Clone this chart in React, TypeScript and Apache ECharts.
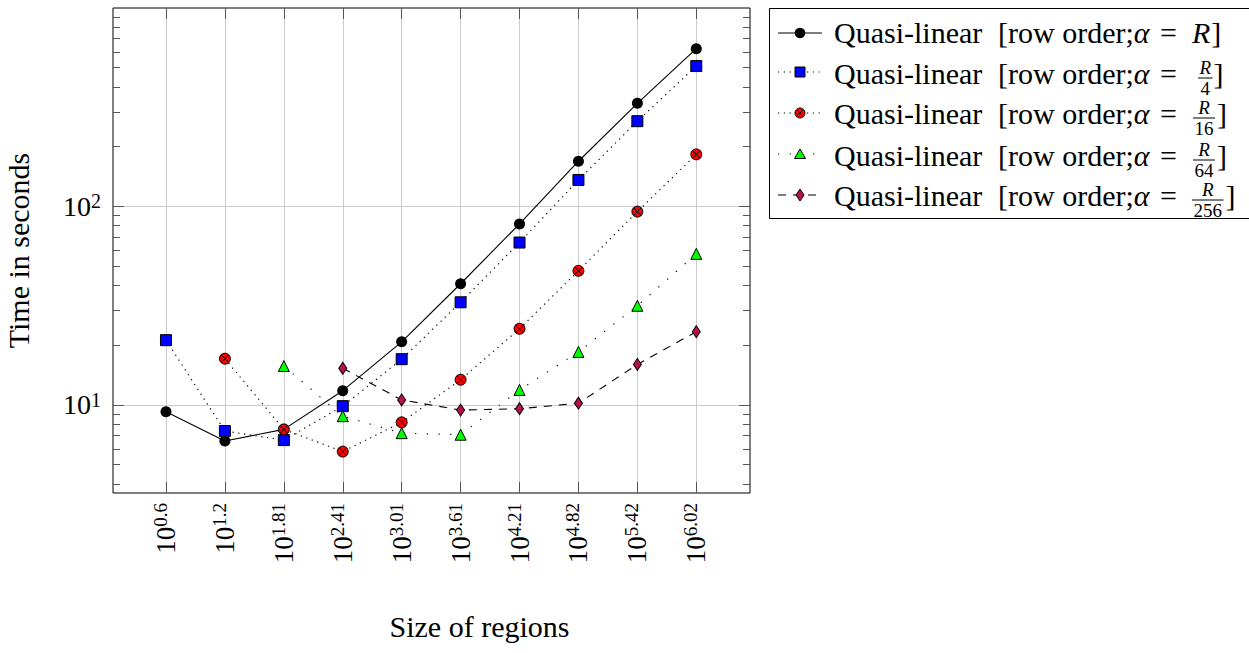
import React, { useEffect, useRef } from 'react';
import * as echarts from 'echarts';

// Region sizes (4^k) on the x axis
const regionSizes = [4, 16, 64, 256, 1024, 4096, 16384, 65536, 262144, 1048576];

// Time in seconds for each alpha setting (null = no measurement)
const timeAlphaR = [9.24, 6.58, 7.53, 11.8, 20.8, 40.8, 81.7, 169, 331, 624];
const timeAlphaR4 = [21.2, 7.39, 6.65, 9.86, 17.0, 32.9, 65.8, 136, 269, 510];
const timeAlphaR16 = [null, 17.1, 7.53, 5.82, 8.17, 13.4, 24.2, 47.4, 94.2, 183];
const timeAlphaR64 = [null, null, 15.7, 8.78, 7.21, 7.08, 11.9, 18.5, 31.6, 57.7];
const timeAlphaR256 = [null, null, null, 15.3, 10.6, 9.42, 9.57, 10.2, 16.0, 23.4];

const seriesNames = [
  'Quasi-linear [row order;α = R]',
  'Quasi-linear [row order;α = R/4]',
  'Quasi-linear [row order;α = R/16]',
  'Quasi-linear [row order;α = R/64]',
  'Quasi-linear [row order;α = R/256]',
];
const alphaDenominators = ['', '4', '16', '64', '256'];

// y axis tick values
const yMajorTicks = [10, 100];
const yMinorTicks = [4, 5, 6, 7, 8, 9, 20, 30, 40, 50, 60, 70, 80, 90, 200, 300, 400, 500, 600, 700, 800, 900];

const FONT = 'Liberation Serif, serif';

const OTIMES =
  'path://M0,10 A10,10 0 1,1 20,10 A10,10 0 1,1 0,10 Z M2.93,2.93 L17.07,17.07 M17.07,2.93 L2.93,17.07';

function measure(text: string, font: string): number {
  const c = document.createElement('canvas');
  const ctx = c.getContext('2d')!;
  ctx.font = font;
  return ctx.measureText(text).width;
}

export default function App() {
  const ref = useRef<HTMLDivElement>(null);

  useEffect(() => {
    if (!ref.current) return;
    const chart = echarts.init(ref.current, null, { renderer: 'svg' });

    const gridLeft = 113;
    const gridTop = 8;
    const gridWidth = 637;
    const gridHeight = 485;

    const xMin = 1.15;
    const xMax = 3.71e6;
    const yMin = 3.6;
    const yMax = 1000;

    const fmtExp = (v: number) => String(Math.round(Math.log10(v) * 100) / 100);

    const tickColor = '#555';
    const gridColor = '#cccccc';

    const supRich = (base: number, sup: number, supLH: number) => ({
      b: { fontSize: base, lineHeight: 30, fontFamily: FONT, color: '#000' },
      s: { fontSize: sup, lineHeight: supLH, fontFamily: FONT, color: '#000', verticalAlign: 'top' },
    });

    const mkData = (vals: (number | null)[]) =>
      regionSizes.map((s, i) => [s, vals[i]]).filter((d) => d[1] != null);

    const lineBase = {
      type: 'line',
      xAxisIndex: 0,
      yAxisIndex: 0,
      showSymbol: true,
      showAllSymbol: true,
      silent: true,
    };

    const styles = [
      { symbol: 'circle', size: 11, fill: '#000', dash: 'solid' as any, lw: 1.1 },
      { symbol: 'rect', size: 11, fill: '#0000ff', dash: [1.2, 4.6], lw: 1.2 },
      { symbol: OTIMES, size: 11, fill: '#ff0000', dash: [1.2, 4.6], lw: 1.2 },
      { symbol: 'triangle', size: 11, fill: '#00ff00', dash: [1.2, 10.5], lw: 1.2 },
      { symbol: 'diamond', size: [8, 12], fill: '#b5124a', dash: [8, 7], lw: 1.1 },
    ];
    const allData = [timeAlphaR, timeAlphaR4, timeAlphaR16, timeAlphaR64, timeAlphaR256];

    const series = allData.map((vals, i) => ({
      ...lineBase,
      name: seriesNames[i],
      data: mkData(vals),
      symbol: styles[i].symbol,
      symbolSize: styles[i].size,
      lineStyle: { color: '#000', width: styles[i].lw, type: styles[i].dash },
      itemStyle: {
        color: styles[i].fill,
        borderColor: '#000',
        borderWidth: i === 0 ? 0 : 1,
      },
      z: 2 + i,
    }));

    // ----- Legend drawn with graphic elements -----
    const legendX = 769.5;
    const markerX = 800;
    const lineX1 = 778;
    const lineX2 = 822;
    const markerY = [33, 72, 113, 154, 195];
    const textY = [32, 73, 113, 155, 195];
    const mainFont = `30px ${FONT}`;
    const italicFont = `italic 30px ${FONT}`;
    const fracFontSize = 19;
    // word start positions inside a legend row
    const wordX = { quasi: 834, row: 998, alpha: 1133, eq: 1160, r: 1192 };
    const fracStart = [0, 1198, 1193, 1193, 1192];
    const fracGap = [0, 1, 2, 2, 2];

    const graphics: any[] = [];
    graphics.push({
      type: 'rect',
      shape: { x: legendX, y: 8.5, width: 500, height: 210 },
      style: { fill: '#fff', stroke: '#000', lineWidth: 1 },
      z: 10,
    });

    const buildRow = (parts: { t: string; s: 'n' | 'i'; x: number }[]) => {
      const rich: any = {
        i: { fontStyle: 'italic', fontSize: 30, lineHeight: 30, fontFamily: FONT, color: '#000' },
        n: { fontSize: 30, lineHeight: 30, fontFamily: FONT, color: '#000' },
      };
      let text = '';
      let cur = parts[0].x;
      parts.forEach((p, k) => {
        if (k > 0) {
          const gap = p.x - cur;
          if (gap > 0.5) {
            rich['g' + k] = { width: gap, fontSize: 30, lineHeight: 30, fontFamily: FONT };
            text += `{g${k}| }`;
            cur += gap;
          }
        }
        text += `{${p.s}|${p.t}}`;
        cur += measure(p.t, p.s === 'i' ? italicFont : mainFont);
      });
      return { text, rich };
    };

    for (let i = 0; i < 5; i++) {
      const cy = markerY[i];
      const st = styles[i];
      graphics.push({
        type: 'line',
        shape: { x1: lineX1, y1: cy, x2: lineX2, y2: cy },
        style: {
          stroke: '#000',
          lineWidth: st.lw,
          lineDash: Array.isArray(st.dash) ? st.dash : null,
        },
        z: 11,
      });
      if (i === 0) {
        graphics.push({ type: 'circle', shape: { cx: markerX, cy, r: 5.3 }, style: { fill: '#000' }, z: 12 });
      } else if (i === 1) {
        graphics.push({
          type: 'rect',
          shape: { x: markerX - 5, y: cy - 5, width: 10, height: 10 },
          style: { fill: '#0000ff', stroke: '#000', lineWidth: 1 },
          z: 12,
        });
      } else if (i === 2) {
        graphics.push({
          type: 'circle',
          shape: { cx: markerX, cy, r: 5 },
          style: { fill: '#ff0000', stroke: '#000', lineWidth: 1 },
          z: 12,
        });
        const d = 3.5;
        graphics.push({
          type: 'line',
          shape: { x1: markerX - d, y1: cy - d, x2: markerX + d, y2: cy + d },
          style: { stroke: '#000', lineWidth: 1 },
          z: 13,
        });
        graphics.push({
          type: 'line',
          shape: { x1: markerX + d, y1: cy - d, x2: markerX - d, y2: cy + d },
          style: { stroke: '#000', lineWidth: 1 },
          z: 13,
        });
      } else if (i === 3) {
        graphics.push({
          type: 'polygon',
          shape: { points: [[markerX, cy - 5], [markerX + 5.5, cy + 4.5], [markerX - 5.5, cy + 4.5]] },
          style: { fill: '#00ff00', stroke: '#000', lineWidth: 1 },
          z: 12,
        });
      } else {
        graphics.push({
          type: 'polygon',
          shape: { points: [[markerX, cy - 6], [markerX + 4, cy], [markerX, cy + 6], [markerX - 4, cy]] },
          style: { fill: '#b5124a', stroke: '#000', lineWidth: 1 },
          z: 12,
        });
      }

      const ty = textY[i];
      const parts: { t: string; s: 'n' | 'i'; x: number }[] = [
        { t: 'Quasi-linear', s: 'n', x: wordX.quasi },
        { t: '[row order;', s: 'n', x: wordX.row },
        { t: 'α', s: 'i', x: wordX.alpha },
        { t: '=', s: 'n', x: wordX.eq },
      ];
      if (i === 0) {
        parts.push({ t: 'R', s: 'i', x: wordX.r });
        parts.push({ t: ']', s: 'n', x: wordX.r + measure('R', italicFont) + 1 });
      }
      const row = buildRow(parts);
      graphics.push({
        type: 'text',
        x: wordX.quasi,
        y: ty,
        style: {
          text: row.text,
          rich: row.rich,
          fontSize: 30,
          fontFamily: FONT,
          fill: '#000',
          align: 'left',
          verticalAlign: 'middle',
        },
        z: 12,
      });

      if (i > 0) {
        const den = alphaDenominators[i];
        const numW = measure('R', `italic ${fracFontSize}px ${FONT}`);
        const denW = measure(den, `${fracFontSize}px ${FONT}`);
        const fw = Math.max(numW, denW) + 3;
        const fx = fracStart[i];
        const barY = ty + 5;
        graphics.push({
          type: 'line',
          shape: { x1: fx, y1: barY, x2: fx + fw, y2: barY },
          style: { stroke: '#000', lineWidth: 1 },
          z: 12,
        });
        graphics.push({
          type: 'text',
          x: fx + fw / 2,
          y: barY - 10.5,
          style: {
            text: 'R',
            fontSize: fracFontSize,
            lineHeight: fracFontSize,
            fontStyle: 'italic',
            fontFamily: FONT,
            fill: '#000',
            align: 'center',
            verticalAlign: 'middle',
          },
          z: 12,
        });
        graphics.push({
          type: 'text',
          x: fx + fw / 2,
          y: barY + 10,
          style: {
            text: den,
            fontSize: fracFontSize,
            lineHeight: fracFontSize,
            fontFamily: FONT,
            fill: '#000',
            align: 'center',
            verticalAlign: 'middle',
          },
          z: 12,
        });
        graphics.push({
          type: 'text',
          x: fx + fw + fracGap[i],
          y: ty,
          style: {
            text: ']',
            fontSize: 30,
            lineHeight: 30,
            fontFamily: FONT,
            fill: '#000',
            align: 'left',
            verticalAlign: 'middle',
          },
          z: 12,
        });
      }
    }

    const hiddenLabel = { show: false };

    const option: any = {
      animation: false,
      backgroundColor: '#fff',
      textStyle: { fontFamily: FONT },
      grid: {
        left: gridLeft,
        top: gridTop,
        width: gridWidth,
        height: gridHeight,
        show: true,
        borderColor: '#000',
        borderWidth: 1,
        backgroundColor: 'transparent',
        containLabel: false,
        outerBoundsMode: 'none',
      },
      xAxis: [
        {
          type: 'log',
          logBase: 10,
          position: 'bottom',
          min: xMin,
          max: xMax,
          name: 'Size of regions',
          nameLocation: 'middle',
          nameGap: 118,
          nameTextStyle: { fontSize: 30, fontFamily: FONT, color: '#000', padding: [0, 0, 0, 96], verticalAlign: 'top' },
          axisLine: { show: false },
          axisTick: { show: true, inside: true, length: 11, customValues: regionSizes, lineStyle: { color: tickColor, width: 1 } },
          axisLabel: {
            show: true,
            customValues: regionSizes,
            rotate: 90,
            margin: 10,
            formatter: (v: number) => `{b|10}{s|${fmtExp(v)}}`,
            rich: supRich(27, 19, 15),
          },
          splitLine: { show: true, lineStyle: { color: gridColor, width: 1 } },
          minorTick: { show: false },
        },
        {
          type: 'log',
          logBase: 10,
          position: 'top',
          min: xMin,
          max: xMax,
          axisLine: { show: false },
          axisTick: { show: true, inside: true, length: 11, customValues: regionSizes, lineStyle: { color: tickColor, width: 1 } },
          axisLabel: hiddenLabel,
          splitLine: { show: false },
        },
      ],
      yAxis: [
        {
          type: 'log',
          logBase: 10,
          position: 'left',
          min: yMin,
          max: yMax,
          name: 'Time in seconds',
          nameLocation: 'middle',
          nameGap: 80,
          nameTextStyle: { fontSize: 30, fontFamily: FONT, color: '#000' },
          axisLine: { show: false },
          axisTick: { show: true, inside: true, length: 11, customValues: yMajorTicks, lineStyle: { color: tickColor, width: 1 } },
          axisLabel: {
            show: true,
            customValues: yMajorTicks,
            margin: 12,
            formatter: (v: number) => `{b|10}{s|${Math.round(Math.log10(v))}}`,
            rich: supRich(28, 20, 16),
          },
          splitLine: { show: true, lineStyle: { color: gridColor, width: 1 } },
        },
        {
          type: 'log',
          logBase: 10,
          position: 'left',
          min: yMin,
          max: yMax,
          axisLine: { show: false },
          axisTick: { show: true, inside: true, length: 7, customValues: yMinorTicks, lineStyle: { color: tickColor, width: 1 } },
          axisLabel: hiddenLabel,
          splitLine: { show: false },
        },
        {
          type: 'log',
          logBase: 10,
          position: 'right',
          min: yMin,
          max: yMax,
          axisLine: { show: false },
          axisTick: { show: true, inside: true, length: 11, customValues: yMajorTicks, lineStyle: { color: tickColor, width: 1 } },
          axisLabel: hiddenLabel,
          splitLine: { show: false },
        },
        {
          type: 'log',
          logBase: 10,
          position: 'right',
          min: yMin,
          max: yMax,
          axisLine: { show: false },
          axisTick: { show: true, inside: true, length: 7, customValues: yMinorTicks, lineStyle: { color: tickColor, width: 1 } },
          axisLabel: hiddenLabel,
          splitLine: { show: false },
        },
      ],
      series,
      graphic: graphics,
    };

    chart.setOption(option);
    return () => chart.dispose();
  }, []);

  return (
    <div
      ref={ref}
      style={{ position: 'fixed', left: 0, top: 0, width: 1249, height: 653, background: '#fff' }}
    />
  );
}
